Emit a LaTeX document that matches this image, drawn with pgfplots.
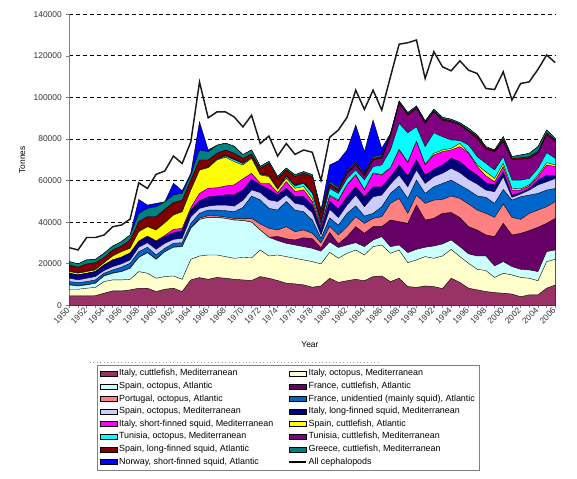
\documentclass[border=0pt]{standalone}
\usepackage{fontspec}
\setmainfont{Liberation Sans}
\usepackage{pgfplots}
\usepackage{pgfplotstable}
\pgfplotsset{compat=1.18}
\definecolor{c1}{HTML}{993366}
\definecolor{c2}{HTML}{FFFFCC}
\definecolor{c3}{HTML}{CCFFFF}
\definecolor{c4}{HTML}{660066}
\definecolor{c5}{HTML}{FF8080}
\definecolor{c6}{HTML}{0066CC}
\definecolor{c7}{HTML}{CCCCFF}
\definecolor{c8}{HTML}{000080}
\definecolor{c9}{HTML}{FF00FF}
\definecolor{c10}{HTML}{FFFF00}
\definecolor{c11}{HTML}{00FFFF}
\definecolor{c12}{HTML}{800080}
\definecolor{c13}{HTML}{800000}
\definecolor{c14}{HTML}{008080}
\definecolor{c15}{HTML}{0000FF}
% cumulative tops of the stacked layers (tonnes), bottom layer c1 ... top layer c15, and the total line
\pgfplotstableread{
year c1 c2 c3 c4 c5 c6 c7 c8 c9 c10 c11 c12 c13 c14 c15 tot
1950 4500 7700 9800 9800 10000 11400 13000 15400 15400 16200 16200 16300 19400 21000 21000 27700
1951 4500 7700 9300 9300 9500 10900 12200 14600 14600 15400 15400 15500 18300 19900 19900 26600
1952 4500 8200 9800 9800 10000 11400 13000 15400 15400 16200 16200 16300 19900 21800 21800 32600
1953 4600 8600 10600 10600 10800 12200 13800 16200 16200 17000 17000 17100 20500 22100 22100 32600
1954 5800 11400 14100 14100 14300 15400 16700 19400 19400 20500 20500 20600 23000 25000 25000 33800
1955 6900 12200 15400 15400 15600 17000 18600 21800 21800 23700 23700 23800 26600 28500 28500 37800
1956 6900 12200 16200 16200 16400 18300 19900 23000 23200 25800 25800 25900 28500 30600 30600 38600
1957 7400 12500 17800 17800 18000 20200 21800 25000 25200 27400 27400 27500 31400 33800 33800 41400
1958 8200 16200 23000 23000 23200 25800 27900 30600 30900 35400 35400 35500 40200 44200 50900 58900
1959 8200 15400 25300 25300 25500 27900 30100 33000 33300 37800 37800 37900 42600 46600 48200 56200
1960 6600 13000 22100 22100 22300 24200 26900 30600 31000 36200 36200 36300 42600 47400 49000 63000
1961 7700 13800 25800 25800 26000 27400 29800 33000 33600 39700 39700 39800 46100 49800 49800 64600
1962 8200 14100 27900 27900 28100 29800 31700 34900 36500 43400 43400 43500 49400 53100 58700 71800
1963 6600 12500 28200 28200 28400 30100 32200 35900 37000 45000 45000 45100 50600 53900 55100 68200
1964 12200 22100 37000 37000 37400 39400 42600 45800 47000 55400 55400 55600 60300 62700 63500 78600
1965 13300 23700 41300 41300 42000 44200 46600 50300 53800 65000 65000 65300 69900 74700 88300 107400
1966 12500 24200 42300 42300 43100 45800 47700 52100 56300 66200 66300 66600 69900 73900 74700 90200
1967 13400 24200 42300 42300 43000 45800 48200 52600 56500 69900 70200 70600 73100 77000 77000 93000
1968 13000 23400 41800 41800 42500 45500 48200 53100 57400 71200 71800 72300 74700 78000 78000 93000
1969 12500 22600 41000 41000 41800 45000 47700 53100 57900 69100 70000 70400 73100 76500 76500 90600
1970 12200 23000 40800 40800 41800 47000 50500 55500 60800 67500 68200 68600 70700 72500 72500 85800
1971 11900 22800 40000 40000 41800 52500 55500 60500 63500 70700 71000 71300 72800 74700 74700 91400
1972 13800 26600 36200 36200 39100 50700 54200 57900 58700 62700 63000 63300 65900 66800 66800 77800
1973 13000 23700 32700 32700 37000 46600 50700 55800 58700 61900 62300 62600 68300 69200 69200 81400
1974 11900 24200 31100 33100 36200 45800 49900 53100 54200 55800 56100 56400 61100 62000 62000 71800
1975 10600 23400 29800 32000 37800 49900 53100 56300 59500 61100 61900 62300 65100 66000 66000 77800
1976 10300 22600 29000 31400 35400 45800 49100 52300 54700 56300 57400 57800 61900 62800 62800 72600
1977 9800 21800 28200 32500 36200 45000 48200 52300 55500 57100 58700 59100 63500 64300 64300 74700
1978 8700 21000 27400 32000 34600 41000 44600 48200 49900 51500 53900 54400 61900 62800 62800 73600
1979 9300 19900 26000 27600 30000 32200 33800 36200 37500 38200 39100 41000 44500 45800 45800 60000
1980 13000 25500 30500 35000 38000 42000 46200 50000 52500 53000 56200 57300 58500 59500 67500 80800
1981 11000 22600 27800 29500 33800 38500 42200 46400 50200 50700 53800 55000 55800 56800 69500 84300
1982 11800 25000 29000 33000 37800 44200 48200 52100 57800 58100 61000 63500 64200 65000 74700 90400
1983 12500 26600 30100 37800 42600 47800 53000 57000 62600 62900 65100 67500 68200 69000 86700 103500
1984 11800 24200 28200 34600 39400 42900 47400 52100 55400 55700 60300 62200 63000 63800 73900 94200
1985 13800 28200 31400 37800 41800 44200 52200 57000 63400 63700 66700 69900 70700 71500 89100 103500
1986 14100 29000 33000 37800 42600 47400 53000 57000 62600 62900 67500 70700 71500 72300 75500 93900
1987 11400 25000 28200 41000 49000 53800 58300 61800 65900 66200 74700 81100 81800 82600 82600 109900
1988 13000 26600 29000 40200 51400 57400 62600 67500 74700 75000 87500 97100 97600 98300 98300 125600
1989 9000 20500 25300 39400 44200 51400 57000 62200 68600 68900 83000 91500 92000 92700 92700 126300
1990 8600 21800 26900 48200 53000 60200 65100 69900 78700 79000 85900 94700 95200 95900 95900 127600
1991 9300 23400 27900 41000 49000 53800 58600 62600 67500 67800 76300 87500 88000 88700 88700 109100
1992 9000 22600 28500 41800 50600 57000 61800 65400 72300 73100 83000 93100 93600 94300 94300 122000
1993 8000 23700 29500 44200 50900 58600 63500 67500 73900 74700 81100 89100 89700 90400 90400 114700
1994 13000 26900 31400 44600 52600 60200 65900 70700 74700 75500 79500 88300 88800 89500 89500 112800
1995 11000 23400 28200 42200 51400 57800 63800 69100 76300 77900 79300 86700 87200 87800 87800 117600
1996 8200 20200 24700 37800 48700 55400 60600 65400 73100 73500 77100 83500 84200 85100 85100 113100
1997 7400 17300 23700 36200 45800 52600 58300 62600 66700 67500 71500 80300 81200 81900 81900 111500
1998 6600 16700 23700 33800 44200 51900 55400 58900 62200 64200 68300 75000 75800 76300 76300 104300
1999 6100 13400 18900 33000 42300 49000 54600 57800 59400 61000 65100 73900 74300 74700 74700 103800
2000 5800 15400 21000 39400 48700 55700 61800 64200 66700 68300 71500 78700 80000 81100 81100 112300
2001 5400 14600 18600 33800 42300 50600 51900 53000 55400 56200 60200 70200 70700 71500 71500 98700
2002 4100 13400 17300 34600 41300 52200 53500 54200 55400 56000 60200 70200 70900 72300 72300 106700
2003 5000 13000 17000 35900 44200 53000 55400 56200 57400 58000 61000 70700 71500 73100 73100 107500
2004 5000 11800 16200 37500 45800 53800 57900 60200 61800 62600 65900 73100 74000 76300 76300 113500
2005 8200 21000 25800 39400 47400 55400 59400 62600 67500 68600 73400 82000 83000 84300 84300 120400
2006 9800 22100 26600 41800 49900 56200 61000 62200 66700 67500 70700 78700 79500 80300 80300 116700
}\data
\pgfplotsset{
  swatch/.style={legend image code/.code={\draw[##1] (0pt,-1.9pt) rectangle (12.5pt,1.9pt);}},
  lineimg/.style={legend image code/.code={\draw[##1] (0pt,0pt) -- (12.5pt,0pt);}},
  lay/.style={draw=black, line width=0.3pt, fill=#1, forget plot},
}
\begin{document}
\begin{tikzpicture}[x=1pt,y=1pt]
\useasboundingbox (0,0) rectangle (432.75,358.5);
\draw[black!40, dotted, line width=0.6pt] (67.5,86.5) -- (285,86.5);
\begin{axis}[
  at={(52pt,129.55pt)}, anchor=south west,
  scale only axis, width=364.5pt, height=218.25pt,
  xmin=1950, xmax=2006, ymin=0, ymax=140000,
  axis x line*=bottom, axis y line*=left,
  axis line style={draw=black!50, line width=0.8pt},
  xtick={1950,1952,...,2006},
  minor xtick={1950,...,2006},
  ytick={0,20000,...,140000},
  scaled ticks=false,
  /pgf/number format/fixed,
  /pgf/number format/precision=0,
  /pgf/number format/1000 sep={},
  /pgf/number format/assume math mode=true,
  tick align=outside,
  major tick length=2.2pt, minor tick length=2.2pt,
  tick style={draw=black!50, line width=0.5pt},
  ymajorgrids,
  major grid style={draw=black, dash pattern=on 3pt off 2.2pt, line width=0.6pt},
  ticklabel style={font=\fontsize{6.3}{7.3}\selectfont, text=black!80},
  xticklabel style={rotate=45, anchor=east, inner sep=1pt},
  ylabel={Tonnes}, xlabel={Year},
  label style={font=\fontsize{6.3}{7.3}\selectfont},
  ylabel style={at={(axis description cs:-0.097,0.5)}, anchor=center},
  xlabel style={at={(axis description cs:0.495,-0.1365)}, anchor=center},
  legend columns=2,
  legend cell align=left,
  legend style={at={(0.057,-0.205)}, anchor=north west, draw=black!50, line width=0.5pt,
    font=\fontsize{6.7}{7.5}\selectfont, row sep=1.9pt, inner xsep=2pt, inner ysep=2.5pt,
    nodes={inner xsep=1.5pt, inner ysep=0.6pt},
    /tikz/column 2/.style={column sep=9.8pt}},
]
\addplot[lay=c15] table[x=year,y=c15]{\data} \closedcycle;
\addplot[lay=c14] table[x=year,y=c14]{\data} \closedcycle;
\addplot[lay=c13] table[x=year,y=c13]{\data} \closedcycle;
\addplot[lay=c12] table[x=year,y=c12]{\data} \closedcycle;
\addplot[lay=c11] table[x=year,y=c11]{\data} \closedcycle;
\addplot[lay=c10] table[x=year,y=c10]{\data} \closedcycle;
\addplot[lay=c9] table[x=year,y=c9]{\data} \closedcycle;
\addplot[lay=c8] table[x=year,y=c8]{\data} \closedcycle;
\addplot[lay=c7] table[x=year,y=c7]{\data} \closedcycle;
\addplot[lay=c6] table[x=year,y=c6]{\data} \closedcycle;
\addplot[lay=c5] table[x=year,y=c5]{\data} \closedcycle;
\addplot[lay=c4] table[x=year,y=c4]{\data} \closedcycle;
\addplot[lay=c3] table[x=year,y=c3]{\data} \closedcycle;
\addplot[lay=c2] table[x=year,y=c2]{\data} \closedcycle;
\addplot[lay=c1] table[x=year,y=c1]{\data} \closedcycle;
\addplot[black!90, line width=1.1pt, forget plot] table[x=year,y=tot]{\data};
\addlegendimage{swatch, fill=c1, draw=black, line width=0.3pt}
\addlegendentry{Italy, cuttlefish, Mediterranean}
\addlegendimage{swatch, fill=c2, draw=black, line width=0.3pt}
\addlegendentry{Italy, octopus, Mediterranean}
\addlegendimage{swatch, fill=c3, draw=black, line width=0.3pt}
\addlegendentry{Spain, octopus, Atlantic}
\addlegendimage{swatch, fill=c4, draw=black, line width=0.3pt}
\addlegendentry{France, cuttlefish, Atlantic}
\addlegendimage{swatch, fill=c5, draw=black, line width=0.3pt}
\addlegendentry{Portugal, octopus, Atlantic}
\addlegendimage{swatch, fill=c6, draw=black, line width=0.3pt}
\addlegendentry{France, unidentied (mainly squid), Atlantic}
\addlegendimage{swatch, fill=c7, draw=black, line width=0.3pt}
\addlegendentry{Spain, octopus, Mediterranean}
\addlegendimage{swatch, fill=c8, draw=black, line width=0.3pt}
\addlegendentry{Italy, long-finned squid, Mediterranean}
\addlegendimage{swatch, fill=c9, draw=black, line width=0.3pt}
\addlegendentry{Italy, short-finned squid, Mediterranean}
\addlegendimage{swatch, fill=c10, draw=black, line width=0.3pt}
\addlegendentry{Spain, cuttlefish, Atlantic}
\addlegendimage{swatch, fill=c11, draw=black, line width=0.3pt}
\addlegendentry{Tunisia, octopus, Mediterranean}
\addlegendimage{swatch, fill=c12, draw=black, line width=0.3pt}
\addlegendentry{Tunisia, cuttlefish, Mediterranean}
\addlegendimage{swatch, fill=c13, draw=black, line width=0.3pt}
\addlegendentry{Spain, long-finned squid, Atlantic}
\addlegendimage{swatch, fill=c14, draw=black, line width=0.3pt}
\addlegendentry{Greece, cuttlefish, Mediterranean}
\addlegendimage{swatch, fill=c15, draw=black, line width=0.3pt}
\addlegendentry{Norway, short-finned squid, Atlantic}
\addlegendimage{lineimg, black, line width=1.1pt}
\addlegendentry{All cephalopods}
\end{axis}
\end{tikzpicture}
\end{document}
